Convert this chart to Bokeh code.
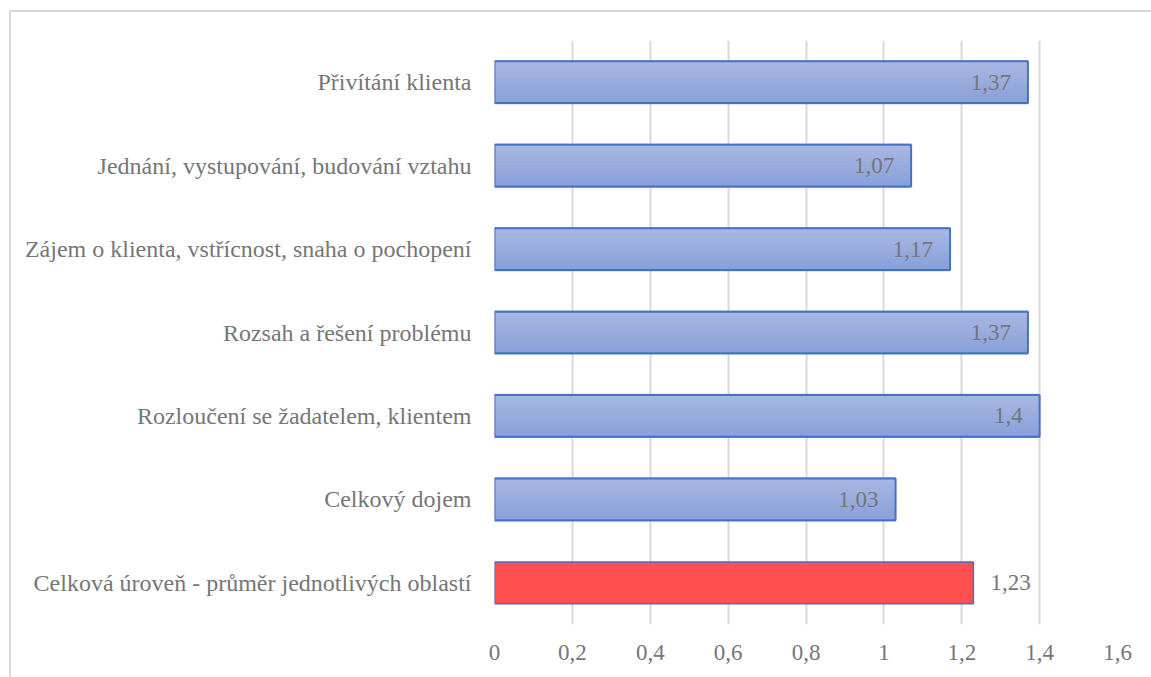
from bokeh.plotting import figure
from bokeh.models import Range1d, FixedTicker, CustomJSTickFormatter
from bokeh.core.properties import value
from bokeh.embed import file_html
from bokeh.resources import INLINE

categories = [
    "Přivítání klienta",
    "Jednání, vystupování, budování vztahu",
    "Zájem o klienta, vstřícnost, snaha o pochopení",
    "Rozsah a řešení problému",
    "Rozloučení se žadatelem, klientem",
    "Celkový dojem",
    "Celková úroveň - průměr jednotlivých oblastí",
]
values = [1.37, 1.07, 1.17, 1.37, 1.4, 1.03, 1.23]
is_total = [False, False, False, False, False, False, True]
x_ticks = [0, 0.2, 0.4, 0.6, 0.8, 1.0, 1.2, 1.4, 1.6]

FONT = "'Liberation Serif', 'Times New Roman', serif"
TXT = "#767676"
n = len(categories)
ypos = [n - 1 - i for i in range(n)]
BAR_H = 0.5

p = figure(width=1142, height=667, output_backend="svg", toolbar_location=None,
           x_range=Range1d(0, 1.6), y_range=Range1d(-0.5, n - 0.5),
           min_border_left=483, min_border_right=36, min_border_top=28, min_border_bottom=55)
p.margin = (10, 0, 0, 9)
p.styles = {"border-left": "2px solid #d9d9d9", "border-top": "2px solid #d9d9d9"}
p.outline_line_color = None
p.background_fill_color = "white"
p.border_fill_color = "white"

# grid
p.ygrid.grid_line_color = None
p.xgrid.ticker = FixedTicker(ticks=x_ticks)
p.xgrid.grid_line_color = "#d9d9d9"
p.xgrid.grid_line_width = 2

# gradient strips for the blue bars
top_c = (170, 184, 227)
bot_c = (137, 160, 218)
N = 12
sx, sy, sh, sc = [], [], [], []
for v, y, t in zip(values, ypos, is_total):
    if t:
        continue
    for k in range(N):
        f = (k + 0.5) / N
        c = tuple(int(round(top_c[j] + (bot_c[j] - top_c[j]) * f)) for j in range(3))
        sx.append(v)
        sy.append(y + BAR_H / 2 - BAR_H * f)
        sh.append(BAR_H / N * 1.7)
        sc.append("#%02x%02x%02x" % c)
p.hbar(y=sy, right=sx, left=0, height=sh, fill_color=sc, line_color=None)

blue_y = [y for y, t in zip(ypos, is_total) if not t]
blue_v = [v for v, t in zip(values, is_total) if not t]
red_y = [y for y, t in zip(ypos, is_total) if t]
red_v = [v for v, t in zip(values, is_total) if t]

p.hbar(y=blue_y, right=blue_v, left=0, height=BAR_H, fill_color=None,
       line_color="#4472c4", line_width=2)
p.hbar(y=red_y, right=red_v, left=0, height=BAR_H, fill_color="#ff4f4f",
       line_color="#4472c4", line_width=1.5)

def fmt(v):
    s = ("%.2f" % v).rstrip("0").rstrip(".")
    return s.replace(".", ",")

p.text(x=blue_v, y=blue_y, text=[fmt(v) for v in blue_v], text_align="right",
       text_baseline="middle", x_offset=-17, text_color=TXT,
       text_font=value(FONT), text_font_size="23px")
p.text(x=red_v, y=red_y, text=[fmt(v) for v in red_v], text_align="left",
       text_baseline="middle", x_offset=17, text_color=TXT,
       text_font=value(FONT), text_font_size="23px")

# axes
p.xaxis.ticker = FixedTicker(ticks=x_ticks)
p.xaxis.formatter = CustomJSTickFormatter(
    code="return tick.toFixed(1).replace(/\\.0$/, '').replace('.', ',');")
p.yaxis.ticker = FixedTicker(ticks=ypos)
p.yaxis.major_label_overrides = {y: c for y, c in zip(ypos, categories)}
for ax in (p.xaxis[0], p.yaxis[0]):
    ax.axis_line_color = None
    ax.major_tick_line_color = None
    ax.minor_tick_line_color = None
    ax.major_label_text_font = FONT
    ax.major_label_text_color = TXT
p.xaxis.major_label_text_font_size = "23px"
p.yaxis.major_label_text_font_size = "24px"
p.yaxis.major_label_standoff = 17
p.xaxis.major_label_standoff = 14

open("out.html", "w").write(file_html(p, INLINE))
